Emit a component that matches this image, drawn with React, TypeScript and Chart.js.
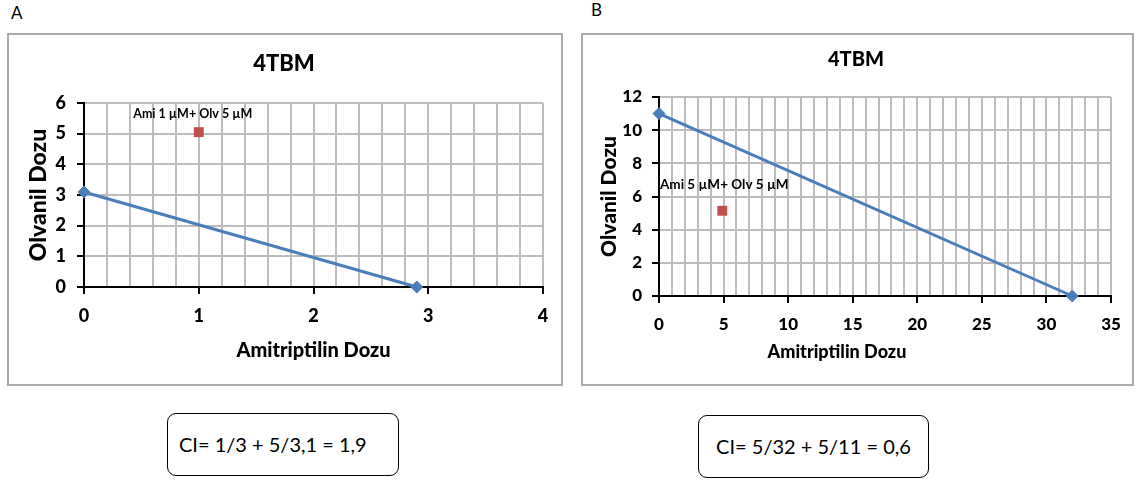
import React, { useEffect, useRef } from 'react';
import { Chart, registerables } from 'chart.js';
Chart.register(...registerables);

// ---------- shared text ----------
const chartTitle = '4TBM';
const xAxisTitle = 'Amitriptilin Dozu';
const yAxisTitle = 'Olvanil Dozu';

// ---------- Panel A data ----------
const isoA_ami = [0, 2.9];
const isoA_olv = [3.1, 0];
const comboA_ami = [1];
const comboA_olv = [5.05];
const comboA_labels = ['Ami 1 µM+ Olv 5 µM'];
const xRangeA = [0, 4];
const xStepA = 0.2;
const xLabelEveryA = 1;
const yRangeA = [0, 6];
const yStepA = 1;
const ciTextA = 'CI= 1/3 + 5/3,1 = 1,9';

// ---------- Panel B data ----------
const isoB_ami = [0, 32];
const isoB_olv = [11, 0];
const comboB_ami = [4.9];
const comboB_olv = [5.14];
const comboB_labels = ['Ami 5 µM+ Olv 5 µM'];
const xRangeB = [0, 35];
const xStepB = 1;
const xLabelEveryB = 5;
const yRangeB = [0, 12];
const yStepB = 2;
const ciTextB = 'CI= 5/32 + 5/11 = 0,6';

const FONT = 'Lato, "Open Sans", sans-serif';
const HEAVY = '900';
const LINE_BLUE = '#4a7ebb';
const COMBO_RED = '#c0504d';
const GRID = '#bdbdbd';

const isMultiple = (v: number, every: number) => {
  const r = v / every;
  return Math.abs(r - Math.round(r)) < 1e-6;
};

const annotatePlugin = {
  id: 'annotate',
  afterDatasetsDraw(chart: any, _a: any, opts: any) {
    const { ctx, chartArea } = chart;
    const meta = chart.getDatasetMeta(1);
    meta.data.forEach((el: any, i: number) => {
      ctx.save();
      ctx.font = `bold ${opts.labelSize}px ${FONT}`;
      ctx.fillStyle = '#000';
      ctx.textAlign = 'center';
      ctx.textBaseline = 'middle';
      ctx.fillText(opts.labels[i], el.x + opts.labelDx, el.y + opts.labelDy);
      ctx.restore();
    });
    ctx.save();
    ctx.font = `${HEAVY} ${opts.xTitleSize}px ${FONT}`;
    ctx.fillStyle = '#000';
    ctx.textAlign = 'center';
    ctx.textBaseline = 'middle';
    ctx.fillText(opts.xTitle, (chartArea.left + chartArea.right) / 2 + opts.xTitleDx, chartArea.bottom + opts.xTitleDy);
    ctx.restore();
  },
};

type PanelCfg = {
  isoX: number[]; isoY: number[]; comboX: number[]; comboY: number[]; labels: string[];
  xRange: number[]; xStep: number; xLabelEvery: number; yRange: number[]; yStep: number;
  width: number; height: number;
  padL: number; padR: number;
  titleSize: number; titlePadTop: number; titlePadBottom: number;
  yWidth: number; yTitleSize: number; yTitlePad: number; yTickPad: number;
  xHeight: number; xTickPad: number; tickSize: number;
  labelSize: number; labelDx: number; labelDy: number;
  xTitleSize: number; xTitleDx: number; xTitleDy: number;
};

function PanelChart({ c }: { c: PanelCfg }) {
  const ref = useRef<HTMLCanvasElement>(null);
  useEffect(() => {
    if (!ref.current) return;
    const chart = new Chart(ref.current, {
      type: 'scatter',
      data: {
        datasets: [
          {
            type: 'line',
            data: c.isoX.map((x, i) => ({ x, y: c.isoY[i] })),
            showLine: true,
            clip: false,
            borderColor: LINE_BLUE,
            borderWidth: 3,
            pointStyle: 'rectRot',
            pointRadius: 6,
            pointBackgroundColor: LINE_BLUE,
            pointBorderColor: LINE_BLUE,
            pointBorderWidth: 1,
          } as any,
          {
            data: c.comboX.map((x, i) => ({ x, y: c.comboY[i] })),
            clip: false,
            pointStyle: 'rect',
            pointRadius: 7,
            backgroundColor: COMBO_RED,
            borderColor: COMBO_RED,
            borderWidth: 0,
          } as any,
        ],
      },
      plugins: [annotatePlugin as any],
      options: {
        animation: false,
        responsive: false,
        layout: { padding: { left: c.padL, right: c.padR, top: 0, bottom: 0 } },
        plugins: {
          legend: { display: false },
          tooltip: { enabled: false },
          title: {
            display: true,
            text: chartTitle,
            color: '#000',
            font: { family: FONT, size: c.titleSize, weight: HEAVY },
            padding: { top: c.titlePadTop, bottom: c.titlePadBottom },
          },
          annotate: {
            labels: c.labels,
            labelSize: c.labelSize,
            labelDx: c.labelDx,
            labelDy: c.labelDy,
            xTitle: xAxisTitle,
            xTitleSize: c.xTitleSize,
            xTitleDx: c.xTitleDx,
            xTitleDy: c.xTitleDy,
          },
        } as any,
        scales: {
          x: {
            type: 'linear',
            min: c.xRange[0],
            max: c.xRange[1],
            afterFit: (s: any) => { s.height = c.xHeight; },
            ticks: {
              stepSize: c.xStep,
              autoSkip: false,
              maxRotation: 0,
              maxTicksLimit: 1000,
              padding: c.xTickPad,
              color: '#000',
              font: { family: FONT, size: c.tickSize, weight: HEAVY },
              callback: (v: any) => (isMultiple(Number(v), c.xLabelEvery) ? String(Math.round(Number(v))) : ''),
            },
            grid: {
              color: (ctx: any) => (ctx.tick && Math.abs(ctx.tick.value - c.xRange[0]) < 1e-9 ? 'rgba(0,0,0,0)' : GRID),
              lineWidth: 2,
              tickLength: 7,
              tickWidth: 2,
              tickColor: (ctx: any) => (ctx.tick && isMultiple(ctx.tick.value, c.xLabelEvery) ? '#000' : 'rgba(0,0,0,0)'),
            },
            border: { color: '#000', width: 2 },
            title: { display: false },
          },
          y: {
            type: 'linear',
            min: c.yRange[0],
            max: c.yRange[1],
            afterFit: (s: any) => { s.width = c.yWidth; },
            ticks: {
              stepSize: c.yStep,
              autoSkip: false,
              padding: c.yTickPad,
              color: '#000',
              font: { family: FONT, size: c.tickSize, weight: HEAVY },
            },
            grid: {
              color: (ctx: any) => (ctx.tick && Math.abs(ctx.tick.value - c.yRange[0]) < 1e-9 ? 'rgba(0,0,0,0)' : GRID),
              lineWidth: 2,
              tickLength: 7,
              tickWidth: 2,
              tickColor: '#000',
            },
            border: { color: '#000', width: 2 },
            title: {
              display: true,
              text: yAxisTitle,
              color: '#000',
              font: { family: FONT, size: c.yTitleSize, weight: HEAVY },
              padding: { top: c.yTitlePad, bottom: 0 },
            },
          },
        },
      } as any,
    });
    return () => chart.destroy();
  }, []);
  return <canvas ref={ref} width={c.width} height={c.height} style={{ width: c.width, height: c.height, display: 'block' }} />;
}

const cfgA: PanelCfg = {
  isoX: isoA_ami, isoY: isoA_olv, comboX: comboA_ami, comboY: comboA_olv, labels: comboA_labels,
  xRange: xRangeA, xStep: xStepA, xLabelEvery: xLabelEveryA, yRange: yRangeA, yStep: yStepA,
  width: 570, height: 400, padL: 25, padR: 27,
  titleSize: 22, titlePadTop: 50.4, titlePadBottom: 26.2,
  yWidth: 59, yTitleSize: 23, yTitlePad: 0, yTickPad: 11,
  xHeight: 113, xTickPad: 11.2, tickSize: 18,
  labelSize: 12.5, labelDx: -6, labelDy: -18,
  xTitleSize: 20, xTitleDx: 0, xTitleDy: 64,
};

const cfgB: PanelCfg = {
  isoX: isoB_ami, isoY: isoB_olv, comboX: comboB_ami, comboY: comboB_olv, labels: comboB_labels,
  xRange: xRangeB, xStep: xStepB, xLabelEvery: xLabelEveryB, yRange: yRangeB, yStep: yStepB,
  width: 565, height: 400, padL: 29, padR: 26,
  titleSize: 20, titlePadTop: 47.6, titlePadBottom: 25.4,
  yWidth: 58, yTitleSize: 21, yTitlePad: -4.6, yTickPad: 10,
  xHeight: 104, xTickPad: 11.8, tickSize: 17,
  labelSize: 13.5, labelDx: 2, labelDy: -26,
  xTitleSize: 18, xTitleDx: -48, xTitleDy: 56,
};

const abs = (o: React.CSSProperties): React.CSSProperties => ({ position: 'absolute', boxSizing: 'border-box', ...o });

export default function App() {
  return (
    <div style={abs({ left: 0, top: 0, width: 1137, height: 480, background: '#fff', fontFamily: FONT, overflow: 'hidden' })}>
      <div style={abs({ left: 11, top: 3, fontSize: 17, lineHeight: '20px', color: '#000' })}>A</div>
      <div style={abs({ left: 591, top: 0, fontSize: 17, lineHeight: '20px', color: '#000' })}>B</div>
      <div style={abs({ left: 7, top: 33, width: 556, height: 353, border: '2px solid #ababab' })} />
      <div style={abs({ left: 581, top: 33, width: 553, height: 353, border: '2px solid #ababab' })} />
      <div style={abs({ left: 0, top: 0 })}><PanelChart c={cfgA} /></div>
      <div style={abs({ left: 572, top: 0 })}><PanelChart c={cfgB} /></div>
      <div style={abs({ left: 167, top: 413, width: 232, height: 63, border: '1.5px solid #000', borderRadius: 9, fontSize: 20, lineHeight: '60px', paddingLeft: 11, color: '#000', whiteSpace: 'nowrap' })}>{ciTextA}</div>
      <div style={abs({ left: 698, top: 415, width: 231, height: 63, border: '1.5px solid #000', borderRadius: 9, fontSize: 20, lineHeight: '60px', textAlign: 'center', color: '#000', whiteSpace: 'nowrap' })}>{ciTextB}</div>
    </div>
  );
}
